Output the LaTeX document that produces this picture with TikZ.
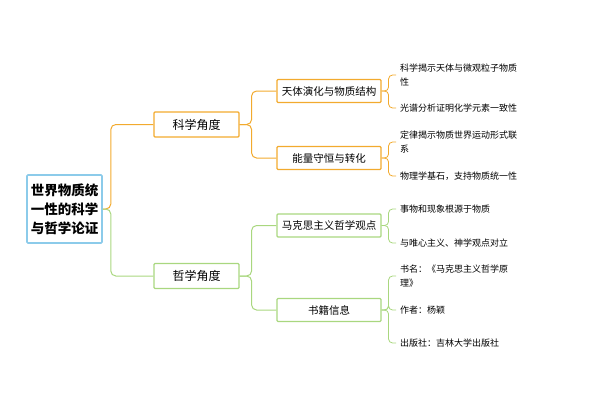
\documentclass[tikz,border=0pt]{standalone}
\usepackage{fontspec}
\setmainfont{Noto Sans CJK SC}
\definecolor{sciOrange}{HTML}{F2AA2E}
\definecolor{phiGreen}{HTML}{A9D77F}
\definecolor{rootBlue}{HTML}{8CCBEA}
\begin{document}
\begin{tikzpicture}[x=1pt,y=-1pt,
  rootbox/.style={draw=rootBlue,line width=1.6pt,rounded corners=1pt,minimum width=75pt,minimum height=68pt,inner sep=2pt,align=center,font=\fontsize{13.5}{19}\selectfont\bfseries},
  midbox/.style={draw=#1,line width=1.2pt,rounded corners=1pt,minimum width=85pt,minimum height=25pt,font=\fontsize{12}{14}\selectfont},
  subbox/.style={draw=#1,line width=1.1pt,rounded corners=1pt,minimum width=104pt,minimum height=23pt,font=\fontsize{10.5}{12}\selectfont},
  leaf/.style={anchor=west,align=left,inner sep=0pt,font=\fontsize{9}{14}\selectfont},
  link/.style={draw=#1,line width=1pt,rounded corners=5pt}]
\useasboundingbox (0,0) rectangle (600,400);
\node[rootbox] (root) at (64.5,209) {世界物质统\\一性的科学\\与哲学论证};
\node[midbox=sciOrange] (sci) at (196.5,124.5) {科学角度};
\node[midbox=phiGreen] (phi) at (196.5,276) {哲学角度};
\node[subbox=sciOrange] (astro) at (329,91) {天体演化与物质结构};
\node[subbox=sciOrange] (energy) at (329,158) {能量守恒与转化};
\node[subbox=phiGreen] (marx) at (329,225.5) {马克思主义哲学观点};
\node[subbox=phiGreen] (book) at (329,310) {书籍信息};
% leaves
\node[leaf] (a1) at (400,75) {科学揭示天体与微观粒子物质\\性};
\node[leaf] (a2) at (400,108) {光谱分析证明化学元素一致性};
\node[leaf] (e1) at (400,142) {定律揭示物质世界运动形式联\\系};
\node[leaf] (e2) at (400,176) {物理学基石，支持物质统一性};
\node[leaf] (m1) at (400,209) {事物和现象根源于物质};
\node[leaf] (m2) at (400,243) {与唯心主义、神学观点对立};
\node[leaf] (b1) at (400,276) {书名：《马克思主义哲学原\\理》};
\node[leaf] (b2) at (400,310) {作者：杨颖};
\node[leaf] (b3) at (400,343) {出版社：吉林大学出版社};
% connectors
\draw[link=sciOrange] (root.east) -- ++(8,0) |- (sci.west);
\draw[link=phiGreen] (root.east) -- ++(8,0) |- (phi.west);
\foreach \p/\c/\col in {sci/astro/sciOrange,sci/energy/sciOrange,phi/marx/phiGreen,phi/book/phiGreen}
  \draw[link=\col] (\p.east) -- ++(12,0) |- (\c.west);
\foreach \p/\c/\col in {astro/a1/sciOrange,astro/a2/sciOrange,energy/e1/sciOrange,energy/e2/sciOrange,
  marx/m1/phiGreen,marx/m2/phiGreen,book/b1/phiGreen,book/b2/phiGreen,book/b3/phiGreen}
  \draw[link=\col,line width=0.8pt,rounded corners=4pt] (\p.east) -- ++(7,0) |- ([xshift=-4pt]\c.west);
\end{tikzpicture}
\end{document}
